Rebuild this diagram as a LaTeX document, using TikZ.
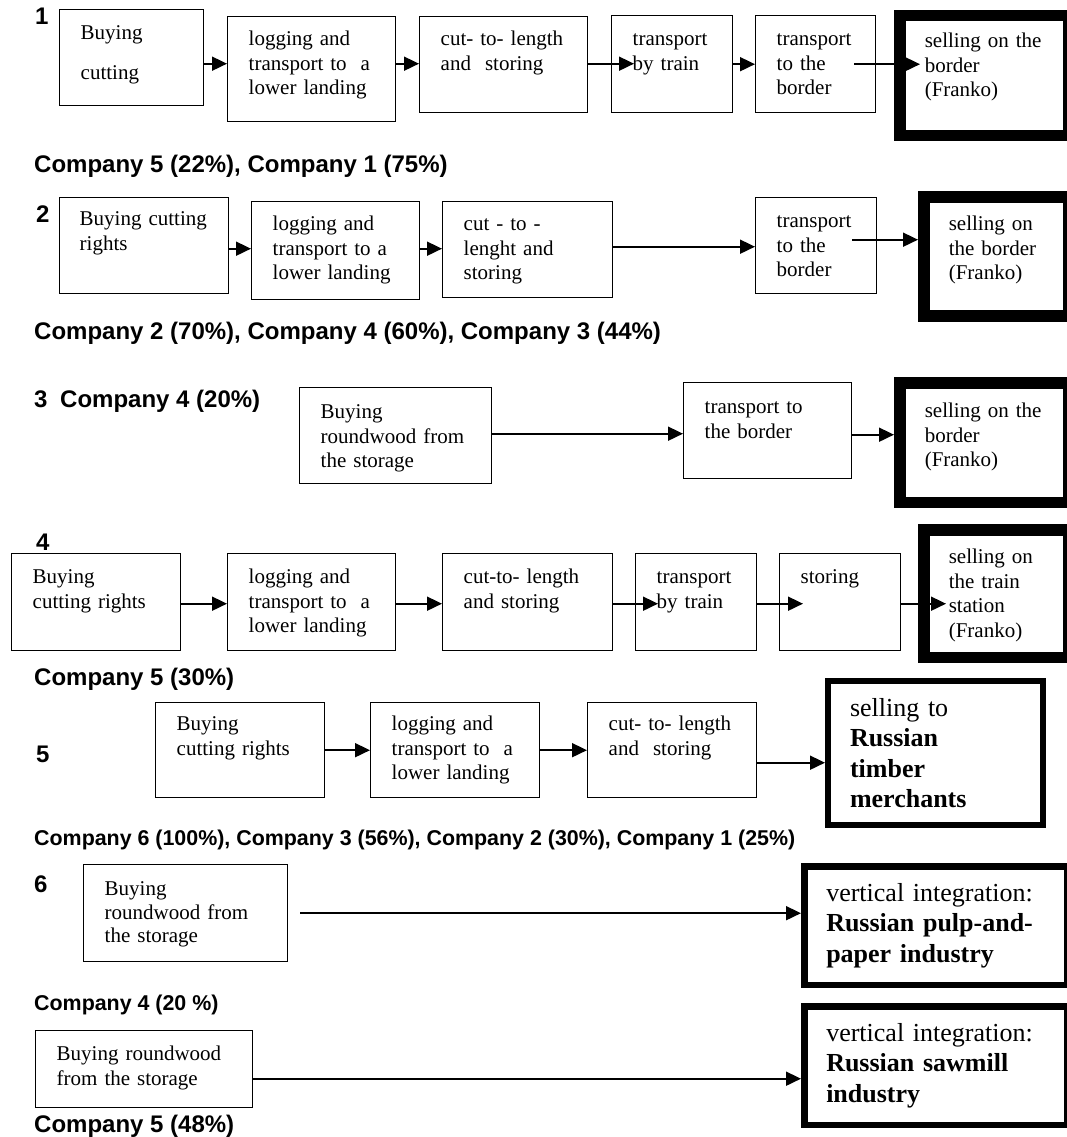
\documentclass[tikz,border=0pt]{standalone}
\usepackage{fontspec}
\setmainfont{Liberation Serif}
\setsansfont{Liberation Sans}
\usetikzlibrary{arrows.meta}
\usetikzlibrary{calc}

\begin{document}
\begin{tikzpicture}[x=1pt, y=-1pt,
    stage/.style={draw, line width=1.4pt, anchor=north west, align=left, inner xsep=21pt, inner ysep=0pt, font=\fontsize{21}{24.5}\selectfont},
    sale/.style={stage, line width=11.5pt, inner xsep=25pt},
    market/.style={stage, line width=6.5pt, inner xsep=22pt, font=\fontsize{26}{30.5}\selectfont},
    dims/.style n args={3}{text width=#1, text height=#2, text depth=#3},
    flow/.style={line width=1.8pt, -{Triangle[length=15pt,width=14pt]}},
    tag/.style={anchor=base west, inner sep=0pt, font=\sffamily\bfseries\fontsize{24}{28}\selectfont},
    smalltag/.style={tag, font=\sffamily\bfseries\fontsize{21.4}{25}\selectfont}]
    \useasboundingbox (0,0) rectangle (1066,1137);

    % chain 1
    \node[tag] (n1) at (35,25) {1};
    \node[stage, dims={102pt}{30pt}{66pt}] (a1) at (59,9) {Buying\\[15.5pt]cutting};
    \node[stage, dims={126pt}{29pt}{76pt}] (b1) at (227,16) {logging and\\transport to~ a\\lower landing};
    \node[stage, dims={126pt}{29pt}{67pt}] (c1) at (419,16) {cut- to- length\\and~ storing};
    \node[stage, dims={79pt}{30pt}{67pt}] (d1) at (611,15) {transport\\by train};
    \node[stage, dims={78pt}{30pt}{67pt}] (e1) at (755,15) {transport\\to the\\border};
    \node[sale, dims={119pt}{32pt}{87.75pt}] (f1) at (894,10) {selling on the\\border\\(Franko)};
    \node[tag] (co1) at (34,172) {Company 5 (22\%), Company 1 (75\%)};

    % chain 2
    \node[tag] (n2) at (36,222) {2};
    \node[stage, inner xsep=20pt, dims={129pt}{28pt}{68pt}] (a2) at (59,197) {Buying~cutting\\rights};
    \node[stage, dims={126pt}{29pt}{69pt}] (b2) at (251,201) {logging and\\transport to a\\lower landing};
    \node[stage, dims={128pt}{29pt}{67pt}] (c2) at (442,201) {cut - to -\\lenght and\\storing};
    \node[stage, dims={79pt}{30pt}{66pt}] (d2) at (755,197) {transport\\to the\\border};
    \node[sale, dims={95pt}{34pt}{85.25pt}] (e2) at (918,191) {selling on\\the border\\(Franko)};
    \node[tag] (co2) at (34,339) {Company 2 (70\%), Company 4 (60\%), Company 3 (44\%)};

    % chain 3
    \node[tag] (n3) at (34,407) {3};
    \node[tag] (co3) at (60,407) {Company 4 (20\%)};
    \node[stage, dims={150pt}{31pt}{65pt}] (a3) at (299,387) {Buying\\roundwood from\\the storage};
    \node[stage, dims={126pt}{31pt}{65pt}] (b3) at (683,382) {transport to\\the border};
    \node[sale, dims={119pt}{35pt}{84.75pt}] (c3) at (894,377) {selling on the\\border\\(Franko)};

    % chain 4
    \node[tag] (n4) at (36,550) {4};
    \node[stage, dims={127pt}{30pt}{67pt}] (a4) at (11,553) {Buying\\cutting rights};
    \node[stage, dims={126pt}{30pt}{67pt}] (b4) at (227,553) {logging and\\transport to~ a\\lower landing};
    \node[stage, dims={128pt}{30pt}{67pt}] (c4) at (442,553) {cut-to- length\\and storing};
    \node[stage, dims={79pt}{30pt}{67pt}] (d4) at (635,553) {transport\\by train};
    \node[stage, dims={79pt}{30pt}{67pt}] (e4) at (779,553) {storing};
    \node[sale, dims={95pt}{34pt}{93.75pt}] (f4) at (918,524) {selling on\\the train\\station\\(Franko)};
    \node[tag] (co4) at (34,685) {Company 5 (30\%)};

    % chain 5
    \node[tag] (n5) at (36,762) {5};
    \node[stage, dims={127pt}{28pt}{67pt}] (a5) at (155,702) {Buying\\cutting rights};
    \node[stage, dims={127pt}{28pt}{67pt}] (b5) at (370,702) {logging and\\transport to~ a\\lower landing};
    \node[stage, dims={127pt}{28pt}{67pt}] (c5) at (587,702) {cut- to- length\\and~ storing};
    \node[market, line width=6pt, dims={171pt}{35pt}{108.5pt}] (d5) at (825,678) {selling to\\\textbf{Russian}\\\textbf{timber}\\\textbf{merchants}};
    \node[smalltag] (co5) at (34,845) {Company 6 (100\%), Company 3 (56\%), Company 2 (30\%), Company 1 (25\%)};

    % chain 6
    \node[tag] (n6) at (34,892) {6};
    \node[stage, font=\fontsize{21}{23.5}\selectfont, dims={162pt}{31pt}{66pt}] (a6) at (83,864) {Buying\\roundwood from\\the storage};
    \node[market, dims={219pt}{35pt}{83.5pt}] (b6) at (801,863) {vertical integration:\\\textbf{Russian pulp-and-}\\\textbf{paper industry}};
    \node[smalltag] (co6) at (34,1010) {Company 4 (20 \%)};
    \node[stage, dims={175pt}{30pt}{47pt}] (a7) at (35,1030) {Buying roundwood\\from the storage};
    \node[market, dims={219pt}{35pt}{83.5pt}] (b7) at (801,1003) {vertical integration:\\\textbf{Russian sawmill}\\\textbf{industry}};
    \node[tag] (co7) at (34,1132) {Company 5 (48\%)};

    % arrows from box edge to box edge
    \foreach \s/\t/\dy in {a1/b1/-6, b1/c1/5.5, d1/e1/0, a2/b2/-3, b2/c2/2, c2/d2/3,
                           a3/b3/2, b3/c3/-4, a4/b4/-1.5, b4/c4/-1.5,
                           a5/b5/0, b5/c5/0, c5/d5/-12.5, a7/b7/-9.5}
        \draw[flow] ([yshift=\dy pt]\s.east) -- ([yshift=\dy pt]\s.east -| \t.west);

    % arrows that run into the boxes
    \draw[flow] ([yshift=1pt]c1.east) -- ($([yshift=1pt]c1.east -| d1.west)+(23pt,0)$);
    \draw[flow] ($(e1.east)+(-22pt,0)$) -- ($(e1.east -| f1.west)+(26pt,0)$);
    \draw[flow] ($([yshift=6pt]d2.east)+(-25pt,0)$) -- ([yshift=6pt]d2.east -| e2.west);
    \draw[flow] ([yshift=-1.5pt]c4.east) -- ($([yshift=-1.5pt]c4.east -| d4.west)+(23pt,0)$);
    \draw[flow] ([yshift=-1.5pt]d4.east) -- ($([yshift=-1.5pt]d4.east -| e4.west)+(24pt,0)$);
    \draw[flow] ([yshift=-1.5pt]e4.east) -- ($([yshift=-1.5pt]e4.east -| f4.west)+(28pt,0)$);
    \draw[flow] ($(a6.east)+(12pt,0)$) -- (a6.east -| b6.west);
\end{tikzpicture}
\end{document}
